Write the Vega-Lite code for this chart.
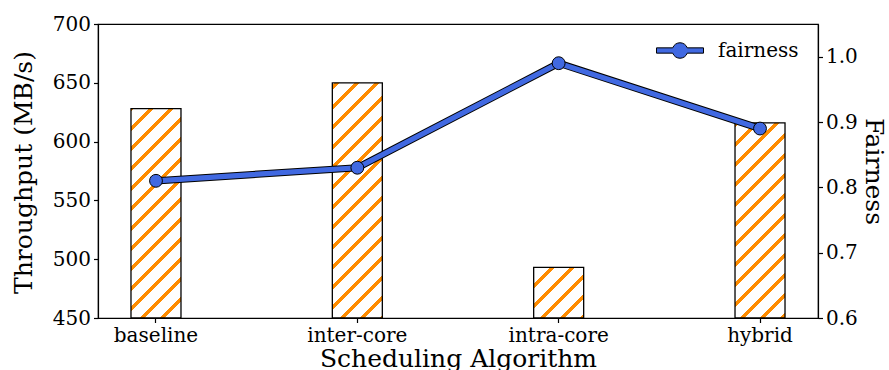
{
  "$schema": "https://vega.github.io/schema/vega-lite/v6.json",
  "width": 720,
  "height": 294,
  "autosize": "none",
  "padding": {"left": 98, "top": 24, "right": 71, "bottom": 52},
  "background": "#ffffff",
  "config": {
    "font": "DejaVu Serif",
    "view": {"stroke": "#000000", "strokeWidth": 1.2},
    "axis": {
      "domainColor": "#000000", "domainWidth": 1.2,
      "tickColor": "#000000", "tickWidth": 1.2, "tickSize": 4.5,
      "labelPadding": 3, "labelFont": "DejaVu Serif", "labelFontSize": 20, "labelColor": "#000000",
      "titleFont": "DejaVu Serif", "titleFontSize": 25, "titleFontWeight": "normal", "titleColor": "#000000",
      "grid": false
    }
  },
  "data": {
    "values": [
      {"alg": "baseline", "throughput": 628, "fairness": 0.81, "series": "fairness"},
      {"alg": "inter-core", "throughput": 650, "fairness": 0.83, "series": "fairness"},
      {"alg": "intra-core", "throughput": 493, "fairness": 0.99, "series": "fairness"},
      {"alg": "hybrid", "throughput": 616, "fairness": 0.89, "series": "fairness"}
    ]
  },
  "encoding": {
    "x": {
      "field": "alg", "type": "nominal", "sort": null,
      "scale": {"paddingInner": 0.5, "paddingOuter": 0.038},
      "axis": {"title": "Scheduling Algorithm", "labelAngle": 0, "titleY": 48.7, "titleBaseline": "alphabetic"}
    }
  },
  "layer": [
    {
      "mark": {"type": "bar", "size": 50, "stroke": "#000000", "strokeWidth": 1.3},
      "encoding": {
        "y": {
          "field": "throughput", "type": "quantitative",
          "scale": {"domain": [450, 700], "nice": false, "zero": false},
          "axis": {"title": "Throughput (MB/s)", "values": [450, 500, 550, 600, 650, 700], "titleX": -67, "titleY": 148, "titleBaseline": "alphabetic"}
        },
        "y2": {"datum": 450},
        "fill": {
          "condition": [
            {"test": "datum.alg === 'baseline'", "value": {"gradient": "linear", "x1": 0, "y1": 0, "x2": 0.279942, "y2": 1.171991, "stops": [
              {"offset": 0, "color": "#ff8c00"}, {"offset": 0.010334, "color": "#ff8c00"}, {"offset": 0.010334, "color": "#ffffff"},
              {"offset": 0.069333, "color": "#ffffff"}, {"offset": 0.069333, "color": "#ff8c00"}, {"offset": 0.087456, "color": "#ff8c00"}, {"offset": 0.087456, "color": "#ffffff"},
              {"offset": 0.146455, "color": "#ffffff"}, {"offset": 0.146455, "color": "#ff8c00"}, {"offset": 0.164578, "color": "#ff8c00"}, {"offset": 0.164578, "color": "#ffffff"},
              {"offset": 0.223577, "color": "#ffffff"}, {"offset": 0.223577, "color": "#ff8c00"}, {"offset": 0.2417, "color": "#ff8c00"}, {"offset": 0.2417, "color": "#ffffff"},
              {"offset": 0.300699, "color": "#ffffff"}, {"offset": 0.300699, "color": "#ff8c00"}, {"offset": 0.318822, "color": "#ff8c00"}, {"offset": 0.318822, "color": "#ffffff"},
              {"offset": 0.377821, "color": "#ffffff"}, {"offset": 0.377821, "color": "#ff8c00"}, {"offset": 0.395944, "color": "#ff8c00"}, {"offset": 0.395944, "color": "#ffffff"},
              {"offset": 0.454943, "color": "#ffffff"}, {"offset": 0.454943, "color": "#ff8c00"}, {"offset": 0.473066, "color": "#ff8c00"}, {"offset": 0.473066, "color": "#ffffff"},
              {"offset": 0.532065, "color": "#ffffff"}, {"offset": 0.532065, "color": "#ff8c00"}, {"offset": 0.550188, "color": "#ff8c00"}, {"offset": 0.550188, "color": "#ffffff"},
              {"offset": 0.609187, "color": "#ffffff"}, {"offset": 0.609187, "color": "#ff8c00"}, {"offset": 0.62731, "color": "#ff8c00"}, {"offset": 0.62731, "color": "#ffffff"},
              {"offset": 0.686309, "color": "#ffffff"}, {"offset": 0.686309, "color": "#ff8c00"}, {"offset": 0.704432, "color": "#ff8c00"}, {"offset": 0.704432, "color": "#ffffff"},
              {"offset": 0.763431, "color": "#ffffff"}, {"offset": 0.763431, "color": "#ff8c00"}, {"offset": 0.781554, "color": "#ff8c00"}, {"offset": 0.781554, "color": "#ffffff"},
              {"offset": 0.840553, "color": "#ffffff"}, {"offset": 0.840553, "color": "#ff8c00"}, {"offset": 0.858676, "color": "#ff8c00"}, {"offset": 0.858676, "color": "#ffffff"},
              {"offset": 0.917675, "color": "#ffffff"}, {"offset": 0.917675, "color": "#ff8c00"}, {"offset": 0.935798, "color": "#ff8c00"}, {"offset": 0.935798, "color": "#ffffff"},
              {"offset": 0.994797, "color": "#ffffff"}, {"offset": 0.994797, "color": "#ff8c00"}, {"offset": 1, "color": "#ff8c00"}
            ]}},
            {"test": "datum.alg === 'inter-core'", "value": {"gradient": "linear", "x1": 0, "y1": 0, "x2": 0.246632, "y2": 1.160155, "stops": [
              {"offset": 0, "color": "#ffffff"},
              {"offset": 0.008941, "color": "#ffffff"}, {"offset": 0.008941, "color": "#ff8c00"}, {"offset": 0.025421, "color": "#ff8c00"}, {"offset": 0.025421, "color": "#ffffff"},
              {"offset": 0.079067, "color": "#ffffff"}, {"offset": 0.079067, "color": "#ff8c00"}, {"offset": 0.095547, "color": "#ff8c00"}, {"offset": 0.095547, "color": "#ffffff"},
              {"offset": 0.149193, "color": "#ffffff"}, {"offset": 0.149193, "color": "#ff8c00"}, {"offset": 0.165673, "color": "#ff8c00"}, {"offset": 0.165673, "color": "#ffffff"},
              {"offset": 0.219319, "color": "#ffffff"}, {"offset": 0.219319, "color": "#ff8c00"}, {"offset": 0.235799, "color": "#ff8c00"}, {"offset": 0.235799, "color": "#ffffff"},
              {"offset": 0.289445, "color": "#ffffff"}, {"offset": 0.289445, "color": "#ff8c00"}, {"offset": 0.305925, "color": "#ff8c00"}, {"offset": 0.305925, "color": "#ffffff"},
              {"offset": 0.359571, "color": "#ffffff"}, {"offset": 0.359571, "color": "#ff8c00"}, {"offset": 0.376051, "color": "#ff8c00"}, {"offset": 0.376051, "color": "#ffffff"},
              {"offset": 0.429697, "color": "#ffffff"}, {"offset": 0.429697, "color": "#ff8c00"}, {"offset": 0.446177, "color": "#ff8c00"}, {"offset": 0.446177, "color": "#ffffff"},
              {"offset": 0.499823, "color": "#ffffff"}, {"offset": 0.499823, "color": "#ff8c00"}, {"offset": 0.516303, "color": "#ff8c00"}, {"offset": 0.516303, "color": "#ffffff"},
              {"offset": 0.569949, "color": "#ffffff"}, {"offset": 0.569949, "color": "#ff8c00"}, {"offset": 0.586429, "color": "#ff8c00"}, {"offset": 0.586429, "color": "#ffffff"},
              {"offset": 0.640075, "color": "#ffffff"}, {"offset": 0.640075, "color": "#ff8c00"}, {"offset": 0.656555, "color": "#ff8c00"}, {"offset": 0.656555, "color": "#ffffff"},
              {"offset": 0.710201, "color": "#ffffff"}, {"offset": 0.710201, "color": "#ff8c00"}, {"offset": 0.726681, "color": "#ff8c00"}, {"offset": 0.726681, "color": "#ffffff"},
              {"offset": 0.780327, "color": "#ffffff"}, {"offset": 0.780327, "color": "#ff8c00"}, {"offset": 0.796807, "color": "#ff8c00"}, {"offset": 0.796807, "color": "#ffffff"},
              {"offset": 0.850453, "color": "#ffffff"}, {"offset": 0.850453, "color": "#ff8c00"}, {"offset": 0.866933, "color": "#ff8c00"}, {"offset": 0.866933, "color": "#ffffff"},
              {"offset": 0.920579, "color": "#ffffff"}, {"offset": 0.920579, "color": "#ff8c00"}, {"offset": 0.937059, "color": "#ff8c00"}, {"offset": 0.937059, "color": "#ffffff"},
              {"offset": 0.990705, "color": "#ffffff"}, {"offset": 0.990705, "color": "#ff8c00"}, {"offset": 1, "color": "#ff8c00"}
            ]}},
            {"test": "datum.alg === 'intra-core'", "value": {"gradient": "linear", "x1": 0, "y1": 0, "x2": 0.994321, "y2": 1.005616, "stops": [
              {"offset": 0, "color": "#ff8c00"}, {"offset": 0.012429, "color": "#ff8c00"}, {"offset": 0.012429, "color": "#ffffff"},
              {"offset": 0.164565, "color": "#ffffff"}, {"offset": 0.164565, "color": "#ff8c00"}, {"offset": 0.211299, "color": "#ff8c00"}, {"offset": 0.211299, "color": "#ffffff"},
              {"offset": 0.363435, "color": "#ffffff"}, {"offset": 0.363435, "color": "#ff8c00"}, {"offset": 0.410169, "color": "#ff8c00"}, {"offset": 0.410169, "color": "#ffffff"},
              {"offset": 0.562305, "color": "#ffffff"}, {"offset": 0.562305, "color": "#ff8c00"}, {"offset": 0.609039, "color": "#ff8c00"}, {"offset": 0.609039, "color": "#ffffff"},
              {"offset": 0.761175, "color": "#ffffff"}, {"offset": 0.761175, "color": "#ff8c00"}, {"offset": 0.807909, "color": "#ff8c00"}, {"offset": 0.807909, "color": "#ffffff"},
              {"offset": 0.960045, "color": "#ffffff"}, {"offset": 0.960045, "color": "#ff8c00"}, {"offset": 1, "color": "#ff8c00"}
            ]}}
          ],
          "value": {"gradient": "linear", "x1": 0, "y1": 0, "x2": 0.301921, "y2": 1.178797, "stops": [
            {"offset": 0, "color": "#ff8c00"}, {"offset": 0.018555, "color": "#ff8c00"}, {"offset": 0.018555, "color": "#ffffff"},
            {"offset": 0.080949, "color": "#ffffff"}, {"offset": 0.080949, "color": "#ff8c00"}, {"offset": 0.100116, "color": "#ff8c00"}, {"offset": 0.100116, "color": "#ffffff"},
            {"offset": 0.16251, "color": "#ffffff"}, {"offset": 0.16251, "color": "#ff8c00"}, {"offset": 0.181677, "color": "#ff8c00"}, {"offset": 0.181677, "color": "#ffffff"},
            {"offset": 0.244071, "color": "#ffffff"}, {"offset": 0.244071, "color": "#ff8c00"}, {"offset": 0.263238, "color": "#ff8c00"}, {"offset": 0.263238, "color": "#ffffff"},
            {"offset": 0.325632, "color": "#ffffff"}, {"offset": 0.325632, "color": "#ff8c00"}, {"offset": 0.344799, "color": "#ff8c00"}, {"offset": 0.344799, "color": "#ffffff"},
            {"offset": 0.407193, "color": "#ffffff"}, {"offset": 0.407193, "color": "#ff8c00"}, {"offset": 0.42636, "color": "#ff8c00"}, {"offset": 0.42636, "color": "#ffffff"},
            {"offset": 0.488754, "color": "#ffffff"}, {"offset": 0.488754, "color": "#ff8c00"}, {"offset": 0.507921, "color": "#ff8c00"}, {"offset": 0.507921, "color": "#ffffff"},
            {"offset": 0.570315, "color": "#ffffff"}, {"offset": 0.570315, "color": "#ff8c00"}, {"offset": 0.589482, "color": "#ff8c00"}, {"offset": 0.589482, "color": "#ffffff"},
            {"offset": 0.651876, "color": "#ffffff"}, {"offset": 0.651876, "color": "#ff8c00"}, {"offset": 0.671043, "color": "#ff8c00"}, {"offset": 0.671043, "color": "#ffffff"},
            {"offset": 0.733437, "color": "#ffffff"}, {"offset": 0.733437, "color": "#ff8c00"}, {"offset": 0.752604, "color": "#ff8c00"}, {"offset": 0.752604, "color": "#ffffff"},
            {"offset": 0.814998, "color": "#ffffff"}, {"offset": 0.814998, "color": "#ff8c00"}, {"offset": 0.834165, "color": "#ff8c00"}, {"offset": 0.834165, "color": "#ffffff"},
            {"offset": 0.896559, "color": "#ffffff"}, {"offset": 0.896559, "color": "#ff8c00"}, {"offset": 0.915726, "color": "#ff8c00"}, {"offset": 0.915726, "color": "#ffffff"},
            {"offset": 0.97812, "color": "#ffffff"}, {"offset": 0.97812, "color": "#ff8c00"}, {"offset": 0.997287, "color": "#ff8c00"}, {"offset": 0.997287, "color": "#ffffff"},
            {"offset": 1, "color": "#ffffff"}
          ]}
        }
      }
    },
    {
      "encoding": {
        "y": {
          "field": "fairness", "type": "quantitative",
          "scale": {"domain": [0.6, 1.05], "nice": false, "zero": false},
          "axis": {"orient": "right", "title": "Fairness", "values": [0.6, 0.7, 0.8, 0.9, 1.0], "format": ".1f", "titleX": 47, "titleY": 147, "titleBaseline": "alphabetic", "titleAngle": 90}
        }
      },
      "layer": [
        {"mark": {"type": "line", "color": "#000000", "strokeWidth": 7.2}},
        {"mark": {"type": "line", "color": "#4169e1", "strokeWidth": 5.2}},
        {
          "mark": {"type": "point", "filled": true, "shape": "circle", "size": 165, "stroke": "#000000", "strokeWidth": 1, "opacity": 1},
          "encoding": {
            "fill": {
              "field": "series", "type": "nominal",
              "scale": {"range": ["#4169e1"]},
              "legend": {
                "title": null, "orient": "none", "legendX": 558, "legendY": 2.5, "padding": 0,
                "symbolType": "M-1,-0.113L-0.31,-0.113A0.33,0.33,0,0,1,0.31,-0.113L1,-0.113L1,0.113L0.31,0.113A0.33,0.33,0,0,1,-0.31,0.113L-1,0.113Z",
                "symbolSize": 2209, "symbolStrokeColor": "#000000", "symbolStrokeWidth": 1, "symbolOpacity": 1,
                "labelFont": "DejaVu Serif", "labelFontSize": 20, "labelColor": "#000000", "labelOffset": 14
              }
            }
          }
        }
      ]
    }
  ],
  "resolve": {"scale": {"y": "independent"}}
}
